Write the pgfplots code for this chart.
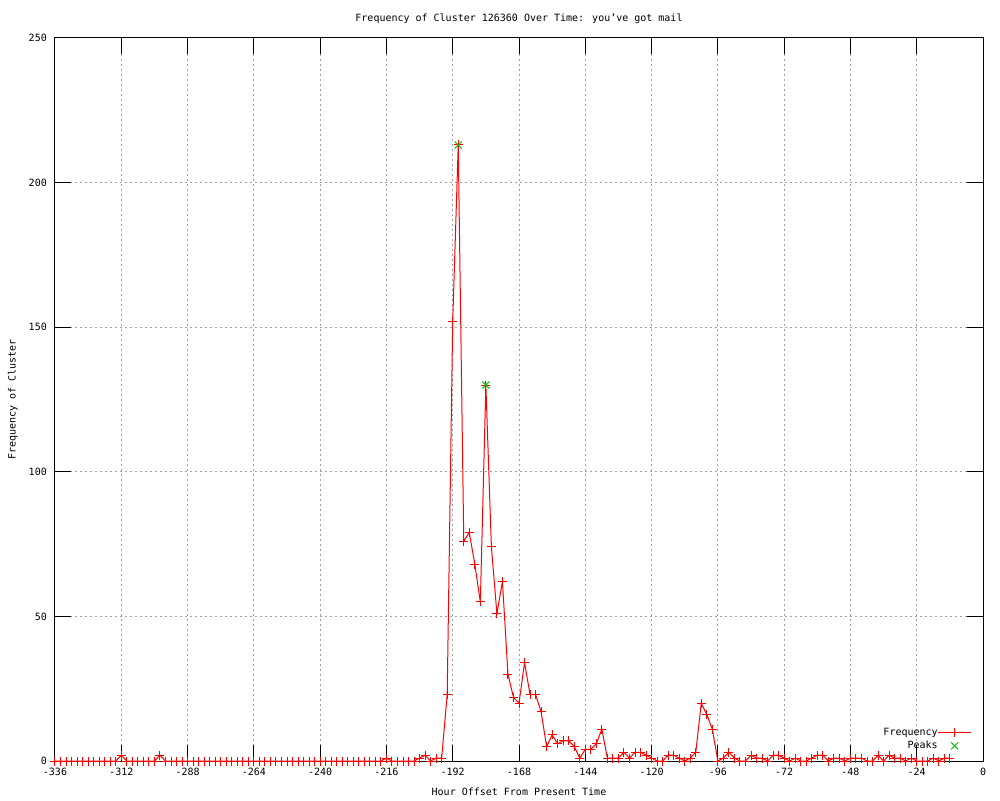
\documentclass[border=0pt]{standalone}
\usepackage{fontspec}
\setmainfont{DejaVu Sans Mono}
\usepackage{pgfplots}
\pgfplotsset{compat=1.18}
\pgfplotsset{major tick length=16pt}
\usetikzlibrary{calc}
\definecolor{gpred}{RGB}{255,0,0}
\definecolor{gpgreen}{RGB}{0,192,0}
\definecolor{gpgrid}{RGB}{160,160,160}

\pgfplotstableread{
x y
-336 0
-334 0
-332 0
-330 0
-328 0
-326 0
-324 0
-322 0
-320 0
-318 0
-316 0
-314 0
-312 2
-310 0
-308 0
-306 0
-304 0
-302 0
-300 0
-298 2
-296 0
-294 0
-292 0
-290 0
-288 0
-286 0
-284 0
-282 0
-280 0
-278 0
-276 0
-274 0
-272 0
-270 0
-268 0
-266 0
-264 0
-262 0
-260 0
-258 0
-256 0
-254 0
-252 0
-250 0
-248 0
-246 0
-244 0
-242 0
-240 0
-238 0
-236 0
-234 0
-232 0
-230 0
-228 0
-226 0
-224 0
-222 0
-220 0
-218 0
-216 1
-214 0
-212 0
-210 0
-208 0
-206 0
-204 1
-202 2
-200 0
-198 1
-196 1
-194 23
-192 152
-190 213
-188 76
-186 79
-184 68
-182 55
-180 130
-178 74
-176 51
-174 62
-172 30
-170 22
-168 20
-166 34
-164 23
-162 23
-160 17
-158 5
-156 9
-154 6
-152 7
-150 7
-148 5
-146 1
-144 4
-142 4
-140 6
-138 11
-136 1
-134 1
-132 1
-130 3
-128 1
-126 3
-124 3
-122 2
-120 1
-118 0
-116 0
-114 2
-112 2
-110 1
-108 0
-106 1
-104 3
-102 20
-100 16
-98 11
-96 0
-94 1
-92 3
-90 1
-88 0
-86 0
-84 2
-82 1
-80 1
-78 0
-76 2
-74 2
-72 1
-70 0
-68 1
-66 0
-64 0
-62 1
-60 2
-58 2
-56 0
-54 1
-52 1
-50 0
-48 1
-46 1
-44 1
-42 0
-40 0
-38 2
-36 0
-34 2
-32 1
-30 1
-28 0
-26 1
-24 0
-22 0
-20 0
-18 1
-16 0
-14 1
-12 1
}\freqdata

\pgfplotstableread{
x y
-190 213
-180 130
}\peakdata

\begin{document}
\begin{tikzpicture}
\begin{axis}[
    name=ax,
    at={(0,0)}, anchor=south west,
    scale only axis,
    width=928pt, height=723pt,
    xmin=-336, xmax=0,
    ymin=0, ymax=250,
    xtick={-336,-312,...,0},
    ytick={0,50,...,250},
    tick pos=both,
    tick align=inside,
    tick style={black, line width=1pt},
    axis line style={black, line width=1pt},
    grid=major,
    major grid style={gpgrid, line width=1pt, dash pattern=on 2pt off 3pt},
    font=\fontsize{10}{12}\selectfont,
    /pgf/number format/assume math mode=true,
    xticklabel style={anchor=north, inner sep=0pt, yshift=-7pt},
    yticklabel style={anchor=east, inner sep=0pt, xshift=-8pt},
    title={Frequency of Cluster 126360 Over Time: you’ve got mail},
    title style={at={(axis description cs:0.5,1.018)}, anchor=center, inner sep=0pt},
    xlabel={Hour Offset From Present Time},
    xlabel style={at={(axis description cs:0.5,-0.0429)}, anchor=center, inner sep=0pt},
    ylabel={Frequency of Cluster},
    ylabel style={at={(axis description cs:-0.0453,0.5)}, anchor=center, inner sep=0pt},
    legend style={draw=none, fill=none, at={(axis description cs:0.988,0.0138)},
        anchor=south east, inner sep=0pt, row sep=3pt,
        nodes={inner sep=0pt, text height=8pt, text depth=2pt},
        font=\fontsize{10}{12}\selectfont},
    legend cell align=right,
    legend plot pos=right,
]
\addplot[gpred, line width=1pt, mark=+, mark size=4.5pt,
    legend image code/.code={\draw[gpred, line width=1pt, mark=+, mark size=4.5pt,
        mark repeat=2, mark phase=2]
        plot coordinates {(15pt,0pt) (31.5pt,0pt) (48pt,0pt)};}]
    table[x=x, y=y] {\freqdata};
\addlegendentry{Frequency}
\addplot[gpgreen, only marks, line width=1pt, mark=x, mark size=5pt,
    legend image code/.code={\draw[gpgreen, line width=1pt, mark=x, mark size=5pt]
        plot[only marks] coordinates {(31.5pt,0pt)};}]
    table[x=x, y=y] {\peakdata};
\addlegendentry{Peaks}
% gnuplot-style long tick marks on all four sides
\pgfplotsinvokeforeach{-312,-288,-264,-240,-216,-192,-168,-144,-120,-96,-72,-48,-24}{
    \draw[black, line width=1pt] (axis cs:#1,0) -- ++(0pt,16pt);
    \draw[black, line width=1pt] (axis cs:#1,250) -- ++(0pt,-16pt);
}
\pgfplotsinvokeforeach{50,100,150,200}{
    \draw[black, line width=1pt] (axis cs:-336,#1) -- ++(16pt,0pt);
    \draw[black, line width=1pt] (axis cs:0,#1) -- ++(-16pt,0pt);
}
\end{axis}
\pgfresetboundingbox
\path[use as bounding box] ($(ax.south west)+(-55pt,-39pt)$) rectangle ($(ax.north east)+(17pt,38pt)$);
\end{tikzpicture}
\end{document}
